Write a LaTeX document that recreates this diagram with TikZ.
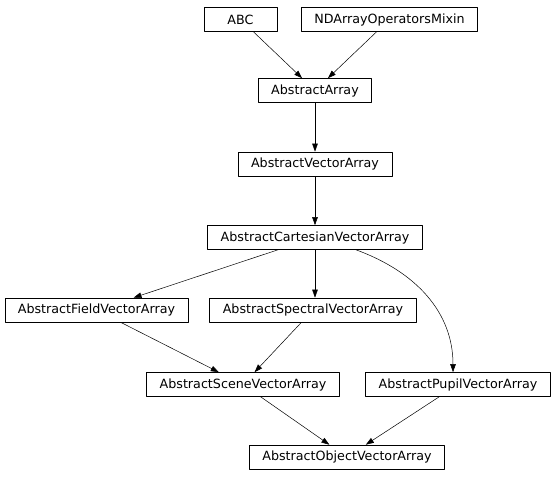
\documentclass[tikz,border=0pt]{standalone}
\usepackage{fontspec}
\setmainfont{DejaVu Sans}
\usetikzlibrary{arrows.meta}
\begin{document}
\begin{tikzpicture}[line cap=round,line join=round,>={Triangle[length=8pt,width=5.5pt]},x=1pt,y=-1pt,
  cls/.style={draw,line width=0.6pt,inner xsep=13pt,inner ysep=0pt,minimum width=73pt,minimum height=24pt,font=\fontsize{12.7}{14}\selectfont},
  inh/.style={->,line width=0.5pt}]
\useasboundingbox (0,0) rectangle (553,476);
\node[cls] (abc) at (240.5,19.5) {ABC};
\node[cls] (mixin) at (389.5,19.5) {NDArrayOperatorsMixin};
\node[cls] (array) at (315,90.5) {AbstractArray};
\node[cls] (vector) at (315,164) {AbstractVectorArray};
\node[cls] (cartesian) at (315,237.5) {AbstractCartesianVectorArray};
\node[cls] (field) at (96.5,310) {AbstractFieldVectorArray};
\node[cls] (spectral) at (313,310) {AbstractSpectralVectorArray};
\node[cls] (scene) at (243,384.5) {AbstractSceneVectorArray};
\node[cls] (pupil) at (458,384.5) {AbstractPupilVectorArray};
\node[cls] (object) at (347,457) {AbstractObjectVectorArray};
\foreach \a/\b in {abc/array,mixin/array,array/vector,vector/cartesian,cartesian/field,
  field/scene,spectral/scene,scene/object,pupil/object}
\draw[inh] (\a) -- (\b);
\draw[inh] (cartesian.south) -- (cartesian.south |- spectral.north);
\draw[inh] ([xshift=41pt]cartesian.south) .. controls +(60,22) and +(0,-60) .. ([xshift=-5pt]pupil.north);
\end{tikzpicture}
\end{document}
